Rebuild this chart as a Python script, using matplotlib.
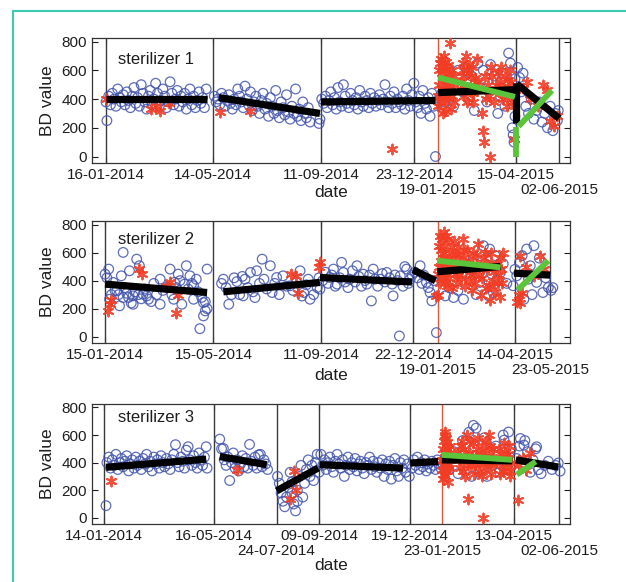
import numpy as np
import matplotlib
matplotlib.use("Agg")
import matplotlib.pyplot as plt
import matplotlib.dates as mdates
from datetime import datetime

plt.rcParams['font.family'] = ['Liberation Sans', 'DejaVu Sans']

# ---------------- data (days after 16-01-2014, BD value) ----------------
BASE = np.datetime64('2014-01-16')
XLIM = ('2013-12-31T12:00', '2015-06-14T00:00')

titles = ['sterilizer 1', 'sterilizer 2', 'sterilizer 3']

# tick dates: first row and second row labels
row1_labels = [
    ['16-01-2014', '14-05-2014', '11-09-2014', '23-12-2014', '15-04-2015'],
    ['15-01-2014', '15-05-2014', '11-09-2014', '22-12-2014', '14-04-2015'],
    ['14-01-2014', '16-05-2014', '09-09-2014', '19-12-2014', '13-04-2015'],
]
row2_labels = [
    ['19-01-2015', '02-06-2015'],
    ['19-01-2015', '23-05-2015'],
    ['24-07-2014', '23-01-2015', '02-06-2015'],
]
red_line_dates = ['19-01-2015', '19-01-2015', '23-01-2015']

# ---- sterilizer 1 ----
s1_blue = [
    (0,380),(1,250),(3,420),(5,360),(7,440),(9,400),(11,350),(13,470),(15,410),(17,380),(19,430),(21,360),
    (23,450),(25,390),(27,340),(29,420),(31,480),(33,370),(35,410),(37,350),(39,500),(41,440),(43,380),(45,330),
    (47,420),(49,460),(51,360),(53,400),(55,510),(57,440),(59,350),(61,390),(63,470),(65,420),(67,340),(69,380),
    (71,520),(73,440),(75,360),(77,400),(79,460),(81,350),(83,420),(85,380),(87,440),(89,330),(91,400),(93,470),
    (95,360),(97,420),(99,340),(101,390),(103,450),(105,370),(107,410),(109,340),(111,470),
    (120,420),(122,380),(124,400),(126,360),(128,440),(130,410),(132,350),(134,390),(136,430),(138,370),(140,330),
    (142,400),(144,360),(146,470),(148,420),(150,380),(152,340),(154,490),(156,400),(158,360),(160,450),(162,320),
    (164,380),(166,420),(168,350),(170,300),(172,390),(174,440),(176,330),(178,370),(180,280),(182,410),(184,350),
    (186,300),(188,460),(190,320),(192,270),(194,380),(196,340),(198,290),(200,430),(202,310),(204,260),(206,350),
    (208,300),(210,470),(212,280),(214,330),(216,250),(218,380),(220,300),(222,270),(224,340),(226,240),(236,230),(237,260),
    (239,400),(241,370),(243,420),(245,340),(247,390),(249,450),(251,360),(253,410),(255,330),(257,480),(259,380),
    (261,350),(263,500),(265,420),(267,370),(269,340),(271,440),(273,390),(275,360),(277,410),(279,330),(281,460),
    (283,380),(285,350),(287,420),(289,390),(291,340),(293,440),(295,370),(297,410),(299,350),(301,390),(303,430),
    (305,360),(307,400),(309,500),(311,380),(313,340),(315,420),(317,370),(319,450),(321,340),(323,400),(325,380),
    (327,360),(329,420),(331,330),(333,470),(335,390),(337,350),(339,430),(341,510),(343,380),(345,340),(347,420),
    (349,300),(351,460),(353,370),(355,330),(357,410),(359,280),(361,440),(363,350),(365,0),
    (370,420),(375,380),(380,500),(385,350),(390,600),(395,450),(398,620),(402,400),(405,560),(408,320),(412,650),
    (415,480),(418,600),(422,380),(426,640),(430,560),(434,300),(437,420),(440,580),(442,350),(444,460),(446,720),
    (448,650),(450,200),(451,150),(452,100),(453,540),(453,280),
    (456,620),(458,550),(460,450),(462,580),(465,350),(468,300),(471,400),(474,260),(477,320),(480,380),(483,240),
    (486,300),(489,200),(492,350),(495,180),(498,300),(500,250),(501,320),
]
s1_red = [
    (0,400),(50,330),(55,350),(60,320),(70,370),(126,310),(160,320),(317,55),
    (368,350),(369,500),(370,650),(371,420),(372,580),(373,300),(374,700),(375,470),(376,600),(377,380),(378,540),
    (379,640),(380,450),(381,520),(382,330),(383,600),(384,480),(385,560),(381,790),
    (368,420),(369,600),(370,380),(371,680),(372,480),(373,620),(374,400),(375,540),(376,320),(377,660),(378,430),
    (379,500),(380,580),(383,420),(385,380),
    (393,520),(395,650),(397,420),(399,700),(401,580),(403,480),(405,620),(407,380),(409,550),(411,680),(400,600),
    (404,450),(408,500),(396,560),(394,460),(396,600),(398,480),(400,380),(402,640),(404,560),(406,440),(410,460),
    (412,520),
    (416,300),(418,180),(419,100),(421,400),(423,500),(425,0),(428,560),(430,380),(420,560),(424,420),(426,620),
    (432,500),(434,580),
    (436,520),(438,620),(440,400),(442,560),(444,350),(446,480),(448,600),(450,380),(452,120),(453,460),(440,480),
    (445,530),(438,440),(447,420),(449,520),
    (462,480),(466,520),(470,400),(478,350),(484,500),(488,460),(492,250),(496,210),(500,280),
]
s1_black = [(0,400,112,400),(125,410,237,300),(238,380,365,390),(368,445,453,465),
            (454,230,454,510),(455,505,502,265)]
s1_green = [(368,550,453,415),(454,0,454,205),(457,210,494,460)]

# ---- sterilizer 2 ----
s2_blue = [
    (-1,446),(1,420),(3,482),(4,267),(6,300),(8,387),(10,330),(12,327),(14,300),(15,220),(17,434),(19,601),(19,279),
    (21,350),(23,310),(25,280),(26,470),(28,240),(30,291),(30,231),(32,320),(34,553),(36,300),(37,506),(39,270),
    (41,303),(43,340),(45,290),(47,267),(50,250),(53,380),(56,300),(60,410),(60,231),(63,330),(67,351),(71,482),
    (73,300),(75,267),(76,387),(78,350),(80,446),(82,400),(84,231),(87,375),(89,506),(91,340),(93,434),(95,380),
    (97,267),(97,363),(100,410),(102,320),(104,57),(106,280),(108,243),(108,148),(110,184),(110,250),(112,482),(112,200),
    (128,380),(130,410),(133,350),(136,231),(139,300),(142,420),(145,393),(148,300),(151,430),(152,291),(154,410),
    (157,350),(160,458),(163,320),(165,279),(167,470),(170,380),(173,553),(175,410),(178,340),(182,506),(184,315),
    (187,380),(189,422),(192,300),(196,434),(200,360),(204,363),(207,330),(211,387),(215,470),(217,290),(219,315),
    (222,370),(224,410),(226,267),(230,300),(234,350),(237,339),(236,420),
    (240,400),(243,460),(246,380),(248,422),(250,440),(252,482),(254,360),(256,375),(259,420),(261,530),(263,458),
    (265,390),(268,350),(270,410),(273,470),(276,390),(278,506),(280,430),(283,360),(285,446),(287,400),(289,375),
    (292,440),(294,255),(296,482),(298,410),(301,360),(304,410),(306,450),(309,390),(311,458),(314,420),(317,375),
    (318,291),(320,440),(323,400),(325,5),(326,434),(329,360),(331,500),(333,482),(335,380),(337,410),(339,440),
    (342,460),(345,420),(348,506),(350,380),(352,440),(355,387),(357,350),(359,315),(361,255),(363,400),(366,29),
    (372,420),(376,291),(380,350),(385,279),(390,330),(396,267),(400,450),(403,410),(407,560),(410,300),(414,387),
    (418,649),(420,520),(422,506),(424,291),(425,625),(427,450),(429,315),(431,578),(433,400),(437,458),(440,520),(444,380),
    (451,363),(453,480),(455,434),(458,530),(461,578),(463,267),(466,625),(468,410),(470,506),(472,300),(474,649),
    (477,387),(480,560),(484,315),(487,420),(490,351),(493,330),(495,350),
]
s2_red = [
    (2,184),(4,231),(6,260),(37,482),(40,450),(67,363),(71,387),(78,172),(80,300),
    (205,450),(210,434),(213,315),(237,530),(236,500),(366,290),
    (368,300),(369,500),(370,720),(371,620),(372,420),(373,560),(374,750),(375,380),(376,650),(377,480),(378,540),
    (379,700),(380,420),(382,600),(383,350),(384,520),(385,680),(387,450),(388,580),(389,380),(390,640),(392,500),
    (393,420),(395,560),(396,700),(398,360),(399,480),(400,620),(402,400),(403,540),(405,330),(406,600),(408,450),
    (409,380),(411,520),(412,660),(415,300),(417,420),(419,560),(421,350),(423,480),(425,260),(427,600),(429,400),
    (431,320),(433,520),(435,440),(437,280),(439,380),(440,600),
    (368,450),(369,650),(370,380),(371,540),(372,700),(373,460),(374,600),(375,500),(376,420),(377,720),(378,360),
    (380,560),(381,480),(383,640),(386,520),(390,440),(391,580),(394,480),(397,620),(401,520),(404,440),(407,500),
    (410,580),(413,440),(418,480),(420,600),(424,360),(426,520),(430,460),(434,380),(436,560),(438,480),
    (455,250),(457,300),(459,578),(459,243),(461,315),(465,500),(474,434),(481,578),(485,480),
]
s2_black = [(-1,375,112,315),(130,320,237,387),(237,422,339,390),(340,477,365,399),
            (367,463,437,501),(452,453,492,439)]
s2_green = [(367,542,437,494),(456,334,490,542)]

# ---- sterilizer 3 ----
s3_blue = [
    (0,88),(1,400),(3,440),(5,360),(7,420),(9,380),(11,460),(13,350),(15,400),(17,430),(19,370),(21,410),(23,450),
    (25,340),(27,390),(29,420),(31,360),(33,440),(35,380),(37,410),(39,350),(41,430),(43,390),(45,460),(47,370),
    (49,410),(51,340),(53,440),(55,390),(57,420),(59,360),(61,450),(63,400),(65,370),(67,430),(69,390),(71,350),
    (73,420),(75,460),(77,530),(79,400),(81,370),(83,440),(85,410),(87,360),(89,490),(91,515),(93,420),(95,380),
    (97,450),(99,400),(101,360),(103,470),(105,420),(107,380),(109,440),(111,515),(112,360),
    (126,570),(128,500),(130,503),(131,420),(133,380),(135,440),(137,270),(139,400),(141,470),(143,360),(145,420),
    (147,340),(149,390),(151,450),(153,370),(155,430),(157,360),(159,532),(161,410),(163,380),(165,440),(167,360),
    (169,456),(171,460),(173,370),(175,420),(177,390),(179,350),
    (190,300),(192,250),(194,180),(196,120),(198,80),(200,150),(202,220),(204,330),(206,260),(208,100),(210,50),
    (212,200),(214,300),(216,380),(218,150),(220,250),(222,350),(224,420),(226,300),(228,380),(230,270),(232,400),
    (234,460),(236,330),(212,120),(206,180),
    (238,460),(240,380),(242,420),(244,350),(246,400),(248,440),(250,370),(252,330),(254,410),(256,460),(258,390),
    (260,360),(262,420),(264,300),(266,380),(268,440),(270,350),(272,400),(274,370),(276,430),(278,340),(280,390),
    (282,410),(284,360),(286,320),(288,400),(290,380),(292,440),(294,350),(296,410),(298,370),(300,330),(302,400),
    (304,360),(306,420),(308,300),(310,390),(312,350),(314,410),(316,280),(318,380),(320,430),(322,340),(324,300),
    (326,400),(328,360),(330,420),(332,330),(334,390),(336,300),
    (339,360),(341,420),(343,380),(345,440),(347,350),(349,400),(351,370),(353,420),(355,340),(357,390),(359,360),
    (361,410),(363,380),(365,350),(367,420),(369,390),(371,360),
    (375,420),(380,350),(385,480),(390,320),(395,560),(398,400),(402,620),(405,300),(407,670),(408,520),(410,650),
    (413,440),(416,350),(419,580),(422,300),(425,480),(428,380),(432,520),(436,330),(440,600),(441,563),(443,420),
    (446,622),(446,350),(449,500),
    (455,430),(458,520),(459,575),(461,380),(463,527),(464,560),(467,480),(470,330),(473,420),(476,500),(477,515),
    (479,349),(482,320),(486,380),(490,410),(494,350),(498,380),(501,397),(503,338),
]
s3_red = [
    (5,266),(145,349),(204,135),(208,337),(210,200),
    (372,350),(373,500),(374,420),(375,600),(376,300),(377,460),(378,550),(379,380),(380,440),(381,520),(373,280),
    (376,620),(379,260),(372,420),(373,380),(374,560),(375,480),(376,400),(377,580),(378,340),(379,500),(380,360),
    (381,460),(374,320),(377,360),
    (390,480),(392,360),(394,560),(396,420),(398,300),(400,600),(402,470),(404,380),(406,540),(391,420),(393,520),
    (395,340),(397,500),(399,440),(401,380),(403,560),(405,440),
    (408,320),(410,450),(412,580),(414,400),(416,300),(418,520),(420,360),(422,480),(424,600),(426,320),(428,440),
    (430,380),(409,380),(411,500),(413,340),(415,460),(419,420),(421,560),(423,400),(425,520),(427,400),(429,500),
    (435,500),(437,320),(439,420),(441,540),(443,360),(445,460),(447,300),(449,400),(436,400),(438,460),(440,340),
    (442,480),(444,420),(446,520),(448,340),(401,135),(418,0),
    (456,130),(458,380),(462,430),(465,350),(470,470),
]
s3_black = [(0,366,111,425),(126,444,178,385),(189,195,235,361),(237,385,329,360),
            (337,397,368,408),(372,420,450,413),(454,420,501,368)]
s3_green = [(372,456,450,420),(455,313,476,408)]

blue_sets = [s1_blue, s2_blue, s3_blue]
red_sets = [s1_red, s2_red, s3_red]
black_sets = [s1_black, s2_black, s3_black]
green_sets = [s1_green, s2_green, s3_green]

# ---------------- drawing ----------------
W, H = 626, 582
fig = plt.figure(figsize=(W / 100, H / 100), dpi=100)

def to_num(days):
    d = BASE + np.asarray(days, dtype=int).astype('timedelta64[D]')
    return mdates.date2num(d)

def str_num(s):
    return mdates.date2num(datetime.strptime(s, '%d-%m-%Y'))

# panel pixel boxes: (top, bottom)
boxes = [(38, 163), (221, 343), (404, 524)]
xlabel_y = [193, 376, 565]
title_off = [22, 18, 14]
L, R = 92, 570

BLUE = '#4254ac'
RED = '#f23c24'
GREEN = '#5cc43a'
TEXT = '#1e1e1e'

for i in range(3):
    top, bot = boxes[i]
    ax = fig.add_axes([L / W, 1 - bot / H, (R - L) / W, (bot - top) / H])
    ax.set_xlim(mdates.date2num(np.datetime64(XLIM[0])), mdates.date2num(np.datetime64(XLIM[1])))
    ax.set_ylim(-45, 825)

    b = np.array(blue_sets[i], dtype=float)
    ax.scatter(to_num(b[:, 0]), b[:, 1], s=48, facecolors='none', edgecolors=BLUE,
               linewidths=0.9, alpha=0.85, zorder=3)
    r = np.array(red_sets[i], dtype=float)
    ax.scatter(to_num(r[:, 0]), r[:, 1], s=50, marker=(6, 2, 0), color=RED,
               linewidths=1.4, alpha=0.9, zorder=4)

    # vertical separators
    for s in row1_labels[i] + row2_labels[i]:
        col = '#e05a3c' if s == red_line_dates[i] else '#3a3a3a'
        ax.axvline(str_num(s), color=col, lw=1.0, zorder=2)

    for (d0, v0, d1, v1) in black_sets[i]:
        ax.plot(to_num([d0, d1]), [v0, v1], color='black', lw=5.2,
                solid_capstyle='butt', zorder=5)
    for (d0, v0, d1, v1) in green_sets[i]:
        ax.plot(to_num([d0, d1]), [v0, v1], color=GREEN, lw=4.2,
                solid_capstyle='butt', zorder=6)

    ax.set_xticks([str_num(s) for s in row1_labels[i]], row1_labels[i])
    ax.set_xticks([str_num(s) for s in row2_labels[i]], row2_labels[i], minor=True)
    ax.set_yticks([0, 200, 400, 600, 800])
    ax.tick_params(axis='x', which='major', direction='in', length=4, pad=3.6,
                   labelsize=11, colors=TEXT, top=True)
    ax.tick_params(axis='x', which='minor', direction='in', length=4, pad=14.2,
                   labelsize=11, colors=TEXT, top=True)
    ax.tick_params(axis='y', direction='in', length=4, pad=3.5, labelsize=11,
                   colors=TEXT, right=True)
    for sp in ax.spines.values():
        sp.set_color('#333333')
        sp.set_linewidth(0.9)

    ax.text(0.055, 1 - title_off[i] / (bot - top), titles[i], transform=ax.transAxes,
            fontsize=12, color=TEXT, ha='left', va='center', zorder=7)

    fig.text(48 / W, 1 - ((top + bot) / 2) / H, 'BD value', rotation=90,
             fontsize=12.5, color=TEXT, ha='center', va='center')
    fig.text((L + R) / 2 / W, 1 - xlabel_y[i] / H, 'date', fontsize=12.5,
             color=TEXT, ha='center', va='center')

# teal frame
fig.add_artist(plt.Line2D([13 / W, 13 / W], [0, 1 - 11 / H], color='#40c9b5', lw=1.5))
fig.add_artist(plt.Line2D([13 / W, 1], [1 - 11 / H, 1 - 11 / H], color='#40c9b5', lw=1.5))

fig.savefig('out.png', dpi=100)
